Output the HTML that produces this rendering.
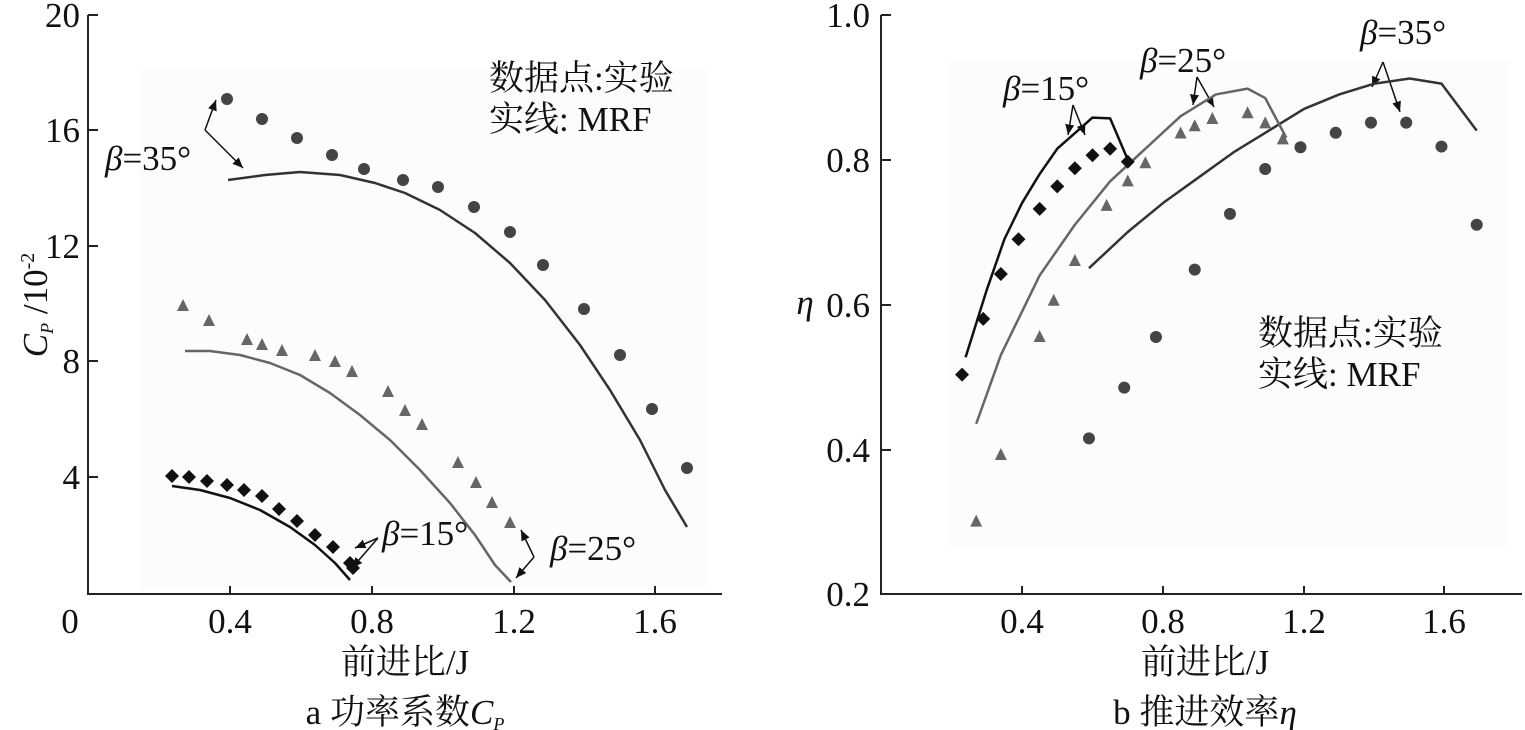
<!DOCTYPE html>
<html><head><meta charset="utf-8"><style>
html,body{margin:0;padding:0;background:#fff;}
svg{display:block;font-family:"Liberation Serif","Noto Serif CJK SC",serif;}
</style></head><body>
<svg id="s" width="1525" height="730" viewBox="0 0 1525 730" xmlns="http://www.w3.org/2000/svg">
<defs><marker id="ar" markerWidth="8" markerHeight="8" refX="7" refY="4" orient="auto"><path d="M0,1 L7,4 L0,7 z" fill="#111"/></marker></defs>
<rect x="140" y="70" width="570" height="520" fill="#fcfcfc"/>
<rect x="950" y="60" width="560" height="490" fill="#fcfcfc"/>
<g stroke="#222" stroke-width="2" fill="none">
<path d="M88,15 V594 H722"/>
<path d="M88,15 h10 M88,130 h10 M88,246 h10 M88,361 h10 M88,477 h10 M230,594 v-8 M372,594 v-8 M514,594 v-8 M655,594 v-8"/>
<path d="M881,15 V594 H1522"/>
<path d="M881,15 h10 M881,160 h10 M881,305 h10 M881,450 h10 M1022,594 v-8 M1163,594 v-8 M1304,594 v-8 M1444,594 v-8"/>
</g>
<g font-size="35" fill="#111">
<text x="80" y="27" text-anchor="end">20</text>
<text x="80" y="142" text-anchor="end">16</text>
<text x="80" y="258" text-anchor="end">12</text>
<text x="80" y="373" text-anchor="end">8</text>
<text x="80" y="489" text-anchor="end">4</text>
<text x="70" y="633" text-anchor="middle">0</text>
<text x="230" y="633" text-anchor="middle">0.4</text>
<text x="372" y="633" text-anchor="middle">0.8</text>
<text x="514" y="633" text-anchor="middle">1.2</text>
<text x="655" y="633" text-anchor="middle">1.6</text>
<text x="870" y="27" text-anchor="end">1.0</text>
<text x="870" y="172" text-anchor="end">0.8</text>
<text x="870" y="317" text-anchor="end">0.6</text>
<text x="870" y="462" text-anchor="end">0.4</text>
<text x="870" y="606" text-anchor="end">0.2</text>
<text x="1022" y="633" text-anchor="middle">0.4</text>
<text x="1163" y="633" text-anchor="middle">0.8</text>
<text x="1304" y="633" text-anchor="middle">1.2</text>
<text x="1444" y="633" text-anchor="middle">1.6</text>
<text x="405" y="674" text-anchor="middle">前进比/J</text>
<text x="405" y="724" text-anchor="middle">a 功率系数<tspan font-style="italic">C</tspan><tspan font-style="italic" font-size="18" dy="6">P</tspan></text>
<text x="1205" y="674" text-anchor="middle">前进比/J</text>
<text x="1205" y="724" text-anchor="middle">b 推进效率<tspan font-style="italic">η</tspan></text>
<text transform="translate(47,305) rotate(-90)" text-anchor="middle"><tspan font-style="italic">C</tspan><tspan font-style="italic" font-size="18" dy="6">P</tspan><tspan dy="-6"> /10</tspan><tspan font-size="20" dy="-13">-2</tspan></text>
<text x="805" y="314" text-anchor="middle" font-style="italic">η</text>
<text x="489" y="90">数据点:实验</text>
<text x="489" y="131">实线: MRF</text>
<text x="1258" y="345">数据点:实验</text>
<text x="1258" y="386">实线: MRF</text>
<text x="105" y="170"><tspan font-style="italic">β</tspan>=35°</text>
<text x="382" y="545"><tspan font-style="italic">β</tspan>=15°</text>
<text x="550" y="560"><tspan font-style="italic">β</tspan>=25°</text>
<text x="1003" y="100"><tspan font-style="italic">β</tspan>=15°</text>
<text x="1140" y="72"><tspan font-style="italic">β</tspan>=25°</text>
<text x="1360" y="44"><tspan font-style="italic">β</tspan>=35°</text>
</g>
<g stroke="#111" stroke-width="1.5" fill="none" marker-end="url(#ar)">
<path d="M205,130 L216,100"/><path d="M205,130 L243,168"/>
<path d="M378,538 L355,548"/><path d="M378,538 L352,568"/>
<path d="M534,557 L521,530"/><path d="M534,557 L516,578"/>
<path d="M1073,105 L1068,135"/><path d="M1073,105 L1085,135"/>
<path d="M1197,77 L1193,105"/><path d="M1197,77 L1214,107"/>
<path d="M1383,62 L1372,87"/><path d="M1383,62 L1400,112"/>
</g>
<g id="g"></g>
</svg>
<script>
var g=document.getElementById('g'),NS='http://www.w3.org/2000/svg';
function el(t,a){var e=document.createElementNS(NS,t);for(var k in a)e.setAttribute(k,a[k]);g.appendChild(e);}
function line(pts,c,w){el('polyline',{points:pts.map(p=>p.join(',')).join(' '),fill:'none',stroke:c,'stroke-width':w||2.5,'stroke-linejoin':'round'});}
function circ(p,c){el('circle',{cx:p[0],cy:p[1],r:6,fill:c});}
function tri(p,c){el('polygon',{points:(p[0]-6)+','+(p[1]+5)+' '+(p[0]+6)+','+(p[1]+5)+' '+p[0]+','+(p[1]-7),fill:c});}
function dia(p,c){el('polygon',{points:p[0]+','+(p[1]-7)+' '+(p[0]+7)+','+p[1]+' '+p[0]+','+(p[1]+7)+' '+(p[0]-7)+','+p[1],fill:c});}
line([[228,180],[265,175],[300,172],[340,175],[375,183],[405,193],[440,210],[475,233],[510,263],[545,300],[580,345],[610,390],[640,440],[665,490],[687,527]],'#333');
[[227,99],[262,119],[297,138],[332,155],[364,169],[403,180],[438,187],[474,207],[510,232],[543,265],[584,309],[620,355],[652,409],[687,468]].forEach(p=>circ(p,'#444'));
line([[185,351],[210,351],[240,355],[270,363],[300,375],[330,393],[360,415],[390,440],[420,470],[450,503],[475,535],[495,565],[511,582]],'#666');
[[183,306],[209,321],[247,340],[262,345],[282,351],[315,356],[335,362],[352,372],[388,392],[405,411],[422,425],[458,463],[476,483],[492,503],[510,523]].forEach(p=>tri(p,'#666'));
line([[172,486],[200,490],[230,498],[260,510],[290,527],[315,545],[335,563],[350,580]],'#111');
[[172,476],[189,477],[207,481],[227,485],[244,490],[262,496],[279,509],[297,521],[315,535],[333,547],[350,563],[353,568]].forEach(p=>dia(p,'#111'));
function R(a){return a.map(v=>[881+352.5*v[0],594-(v[1]-0.2)*724]);}
line(R([[0.59,0.65],[0.7,0.7],[0.8,0.74],[0.9,0.775],[1.0,0.81],[1.1,0.84],[1.2,0.87],[1.3,0.89],[1.4,0.905],[1.5,0.912],[1.59,0.905],[1.69,0.84]]),'#333');
R([[0.59,0.415],[0.69,0.485],[0.78,0.555],[0.89,0.648],[0.99,0.725],[1.09,0.787],[1.19,0.817],[1.29,0.837],[1.39,0.851],[1.49,0.851],[1.59,0.818],[1.69,0.71]]).forEach(p=>circ(p,'#444'));
line(R([[0.27,0.435],[0.34,0.53],[0.45,0.64],[0.55,0.71],[0.65,0.77],[0.75,0.815],[0.85,0.86],[0.95,0.89],[1.04,0.898],[1.09,0.885],[1.15,0.83]]),'#666');
R([[0.27,0.3],[0.34,0.392],[0.45,0.555],[0.49,0.605],[0.55,0.66],[0.64,0.736],[0.7,0.77],[0.75,0.795],[0.85,0.836],[0.89,0.846],[0.94,0.856],[1.04,0.864],[1.09,0.85],[1.14,0.828]]).forEach(p=>tri(p,'#666'));
line(R([[0.24,0.527],[0.3,0.62],[0.35,0.69],[0.4,0.74],[0.45,0.78],[0.5,0.815],[0.6,0.858],[0.65,0.857],[0.7,0.8]]),'#111');
R([[0.23,0.503],[0.29,0.58],[0.34,0.642],[0.39,0.69],[0.45,0.732],[0.5,0.763],[0.55,0.788],[0.6,0.806],[0.65,0.815],[0.7,0.797]]).forEach(p=>dia(p,'#111'));
</script>
</body></html>
